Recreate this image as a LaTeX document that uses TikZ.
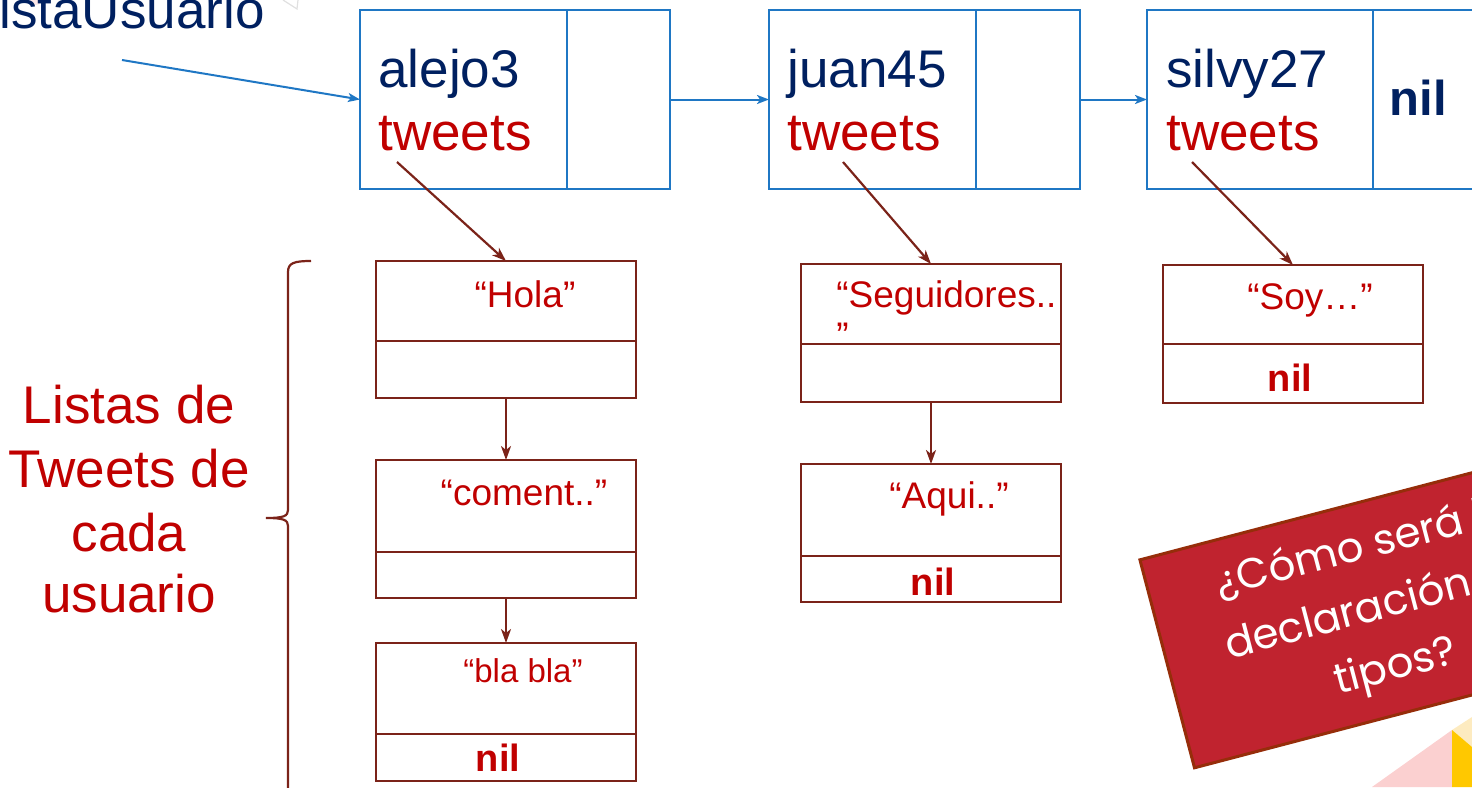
\documentclass[tikz,border=0pt]{standalone}
\usepackage{fontspec}
\setmainfont{Liberation Sans}
\newfontfamily\popp{Poppins}
\usetikzlibrary{arrows.meta}
\definecolor{navy}{HTML}{002060}
\definecolor{tred}{HTML}{C00000}
\definecolor{lblue}{HTML}{1F77C4}
\definecolor{brn}{HTML}{7B2319}
\definecolor{boxred}{HTML}{C0232F}
\definecolor{boxedge}{HTML}{962D0A}
\definecolor{dpink}{HTML}{FBD0D0}
\definecolor{dyel}{HTML}{FFC800}
\definecolor{dlyel}{HTML}{FDEBC0}
\tikzset{
  ucell/.style={draw=lblue, line width=1pt, inner sep=0pt, outer sep=0pt, minimum height=89.5pt},
  tcell/.style={draw=brn, line width=1.1pt, inner sep=0pt, outer sep=0pt, minimum width=130pt},
  uname/.style={text=navy, font=\fontsize{26.5}{31}\selectfont, inner sep=0pt},
  utw/.style={text=tred, font=\fontsize{26.5}{31}\selectfont, inner sep=0pt},
  ttext/.style={text=tred, font=\fontsize{18.5}{22}\selectfont, inner sep=0pt},
  tnil/.style={text=tred, font=\bfseries\fontsize{19}{22}\selectfont, inner sep=0pt},
  ltext/.style={text=tred, font=\fontsize{26.5}{32}\selectfont, inner sep=0pt},
  barrow/.style={draw=lblue, line width=1pt, -{Stealth[length=6pt,width=4.5pt,inset=1.5pt]}},
  brarrow/.style={draw=brn, line width=1.1pt, -{Stealth[length=7pt,width=5pt,inset=2pt]}},
}
\begin{document}
\begin{tikzpicture}[x=0.5pt,y=-0.5pt]
\path[use as bounding box] (0,0) rectangle (1472,787);
\clip (0,0) rectangle (1472,787);
% faint background marks
\fill[dpink!50] (36,-1) circle (6);
\draw[black!12, line width=0.6pt] (283,0) -- (297,9) -- (298,0);
% bottom-right decoration
\fill[dpink] (1372,787) -- (1452,730) -- (1452,787) -- cycle;
\fill[dlyel] (1452,730) -- (1472,717) -- (1472,747) -- cycle;
\fill[dyel] (1452,730) -- (1472,747) -- (1472,787) -- (1452,787) -- cycle;
% list label
\node[uname, anchor=base east] (lbl) at (265,28) {listaUsuario};
% user nodes
\node[ucell, minimum width=103.5pt] (u1a) at (463.5,99.5) {};
\node[ucell, minimum width=51.5pt] (u1b) at (618.5,99.5) {};
\node[ucell, minimum width=103.5pt] (u2a) at (872.5,99.5) {};
\node[ucell, minimum width=52pt] (u2b) at (1028,99.5) {};
\node[ucell, minimum width=113pt] (u3a) at (1260,99.5) {};
\node[ucell, minimum width=55pt] (u3b) at (1428,99.5) {};
\node[uname, anchor=base west] (n1) at (378,87) {alejo3};
\node[utw, anchor=base west] (w1) at (378,150) {tweets};
\node[uname, anchor=base west] (n2) at (787,87) {juan45};
\node[utw, anchor=base west] (w2) at (787,150) {tweets};
\node[uname, anchor=base west] (n3) at (1166,87) {silvy27};
\node[utw, anchor=base west] (w3) at (1166,150) {tweets};
\node[text=navy, font=\bfseries\fontsize{24.5}{29}\selectfont, inner sep=0pt, anchor=base] (nilu) at (1418,115) {nil};
% blue arrows
\coordinate (lu) at (122,60);
\draw[barrow] (lu) -- (u1a.west);
\draw[barrow] (u1b.east) -- (u2a.west);
\draw[barrow] (u2b.east) -- (u3a.west);
% tweet nodes
\node[tcell, minimum height=40pt] (t1a) at (506,301) {};
\node[tcell, minimum height=28.5pt] (t1b) at (506,369.5) {};
\node[tcell, minimum height=46pt] (t2a) at (506,506) {};
\node[tcell, minimum height=23pt] (t2b) at (506,575) {};
\node[tcell, minimum height=45.5pt] (t3a) at (506,688.5) {};
\node[tcell, minimum height=23.5pt] (t3b) at (506,757.5) {};
\node[tcell, minimum height=40pt] (s1a) at (931,304) {};
\node[tcell, minimum height=29pt] (s1b) at (931,373) {};
\node[tcell, minimum height=46pt] (s2a) at (931,510) {};
\node[tcell, minimum height=23pt] (s2b) at (931,579) {};
\node[tcell, minimum height=39.5pt] (r1a) at (1293,304.5) {};
\node[tcell, minimum height=29.5pt] (r1b) at (1293,373.5) {};
% tweet texts
\node[ttext, anchor=base] (x1) at (525,307) {“Hola”};
\node[ttext, anchor=base] (x2) at (524,505) {“coment..”};
\node[ttext, anchor=base, font=\fontsize{16.5}{20}\selectfont] (x3) at (523,682) {“bla bla”};
\node[tnil, anchor=base] (x4) at (498,771) {nil};
\node[ttext, anchor=base west] (y1) at (836,307) {“Seguidores..};
\node[ttext, anchor=base west] (y1b) at (836,348) {”};
\node[ttext, anchor=base] (y2) at (949,508) {“Aqui..”};
\node[tnil, anchor=base] (y3) at (933,595) {nil};
\node[ttext, anchor=base] (z1) at (1310,309) {“Soy…”};
\node[tnil, anchor=base] (z2) at (1290,391) {nil};
% brown arrows
\coordinate (p1) at (397,162);
\coordinate (p2) at (843,162);
\coordinate (p3) at (1192,162);
\draw[brarrow] (p1) -- (t1a.north);
\draw[brarrow] (p2) -- (s1a.north);
\draw[brarrow] (p3) -- (r1a.north);
\draw[brarrow] (t1b.south) -- (t2a.north);
\draw[brarrow] (t2b.south) -- (t3a.north);
\draw[brarrow] (s1b.south) -- (s2a.north);
% brace
\draw[brn, line width=1.1pt] (311,261) .. controls (294,261) and (288,263) .. (288,272)
  -- (288,510) .. controls (288,516) and (284,518) .. (266,518)
  .. controls (284,518) and (288,520) .. (288,526) -- (288,800);
% left label
\node[ltext, anchor=base] (l1) at (129,423) {Listas de};
\node[ltext, anchor=base] (l2) at (129,487) {Tweets de};
\node[ltext, anchor=base] (l3) at (129,551) {cada};
\node[ltext, anchor=base] (l4) at (129,612) {usuario};
% question box
\node[draw=boxedge, fill=boxred, line width=1.5pt, rotate=14.7, minimum width=220pt,
  minimum height=107.5pt, inner sep=0pt, align=center, text=white,
  font=\popp\fontsize{21}{31}\selectfont] (q) at (1380,608) {¿Cómo será la\\declaración de\\tipos?};
\end{tikzpicture}
\end{document}
